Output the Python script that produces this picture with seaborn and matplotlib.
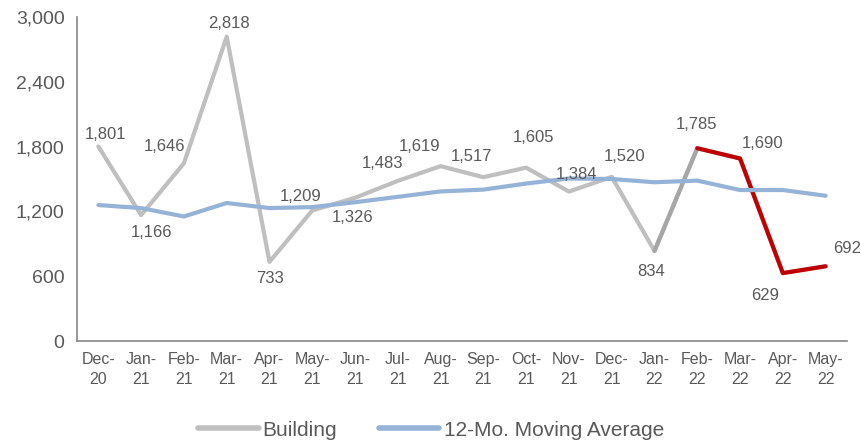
import numpy as np
import pandas as pd
import seaborn as sns
import matplotlib.pyplot as plt
from matplotlib.lines import Line2D

# data
months = ['Dec-\n20', 'Jan-\n21', 'Feb-\n21', 'Mar-\n21', 'Apr-\n21', 'May-\n21',
          'Jun-\n21', 'Jul-\n21', 'Aug-\n21', 'Sep-\n21', 'Oct-\n21', 'Nov-\n21',
          'Dec-\n21', 'Jan-\n22', 'Feb-\n22', 'Mar-\n22', 'Apr-\n22', 'May-\n22']
building = [1801, 1166, 1646, 2818, 733, 1209, 1326, 1483, 1619, 1517, 1605, 1384,
            1520, 834, 1785, 1690, 629, 692]
moving_avg = [1259, 1231, 1153, 1278, 1231, 1240, 1285, 1335, 1385, 1402, 1458, 1505,
              1500, 1470, 1485, 1398, 1398, 1345]
# label offsets in pixels (dx, dy)
label_offsets = [(7, 12), (10, -17), (-19, 17), (2, 13), (1, -17), (-12, 14),
                 (-2, -20), (-15, 17), (-21, 20), (-12, 21), (7, 30), (8, 17),
                 (13, 20), (-3, -21), (-1, 24), (23, 15), (-18, -22), (22, 18)]

df = pd.DataFrame({'idx': np.arange(len(months)), 'month': months,
                   'building': building, 'ma': moving_avg})

sns.set_style('white')
plt.rcParams['font.family'] = ['Liberation Sans', 'DejaVu Sans']

text_col = '#595959'
gray = '#BFBFBF'
dark_gray = '#A6A6A6'
red = '#C00000'
blue = '#95B3D7'
lw = 3.0

fig = plt.figure(figsize=(8.62, 4.43), dpi=100)
ax = fig.add_axes([0.0893, 0.2302, 0.8933, 0.7314])

kw = dict(x='idx', y='building', ax=ax, linewidth=lw, legend=False,
          solid_capstyle='round', solid_joinstyle='round')
sns.lineplot(data=df, color=gray, **kw)
sns.lineplot(data=df.iloc[13:15], color=dark_gray, **kw)
sns.lineplot(data=df.iloc[14:], color=red, **kw)
sns.lineplot(data=df, x='idx', y='ma', ax=ax, color=blue, linewidth=lw,
             legend=False, solid_capstyle='round', solid_joinstyle='round')

for i, (v, (dx, dy)) in enumerate(zip(building, label_offsets)):
    ax.annotate(f'{v:,}', (i, v), xytext=(dx, dy), textcoords='offset pixels',
                ha='center', va='center', fontsize=12, color=text_col,
                annotation_clip=False)

ax.set_xlim(-0.5, len(months) - 0.5)
ax.set_ylim(0, 3000)
ax.set_yticks(range(0, 3001, 600))
ax.set_yticklabels([f'{t:,}' for t in range(0, 3001, 600)])
ax.set_xticks(range(len(months)))
ax.set_xticklabels(months, linespacing=1.4)
ax.set_xticks(np.arange(-0.5, len(months)), minor=True)
ax.tick_params(axis='x', which='major', length=0, labelsize=11.5, colors=text_col, pad=8)
ax.tick_params(axis='x', which='minor', length=5, width=1.2, color='#868686', direction='out')
ax.tick_params(axis='y', length=5, width=1.2, color='#868686', labelsize=14,
               labelcolor=text_col, direction='out', pad=4)
ax.set_xlabel('')
ax.set_ylabel('')

for s in ['top', 'right']:
    ax.spines[s].set_visible(False)
for s in ['left', 'bottom']:
    ax.spines[s].set_color('#868686')
    ax.spines[s].set_linewidth(1.2)

handles = [Line2D([], [], color=gray, lw=4, solid_capstyle='round'),
           Line2D([], [], color=blue, lw=4, solid_capstyle='round')]
fig.legend(handles, ['Building', '12-Mo. Moving Average'], loc='lower center',
           bbox_to_anchor=(0.5, -0.035), ncol=2, frameon=False, fontsize=15,
           labelcolor=text_col, handlelength=2.9, handletextpad=0.2, columnspacing=2.0)

fig.savefig('out.png', dpi=100)
